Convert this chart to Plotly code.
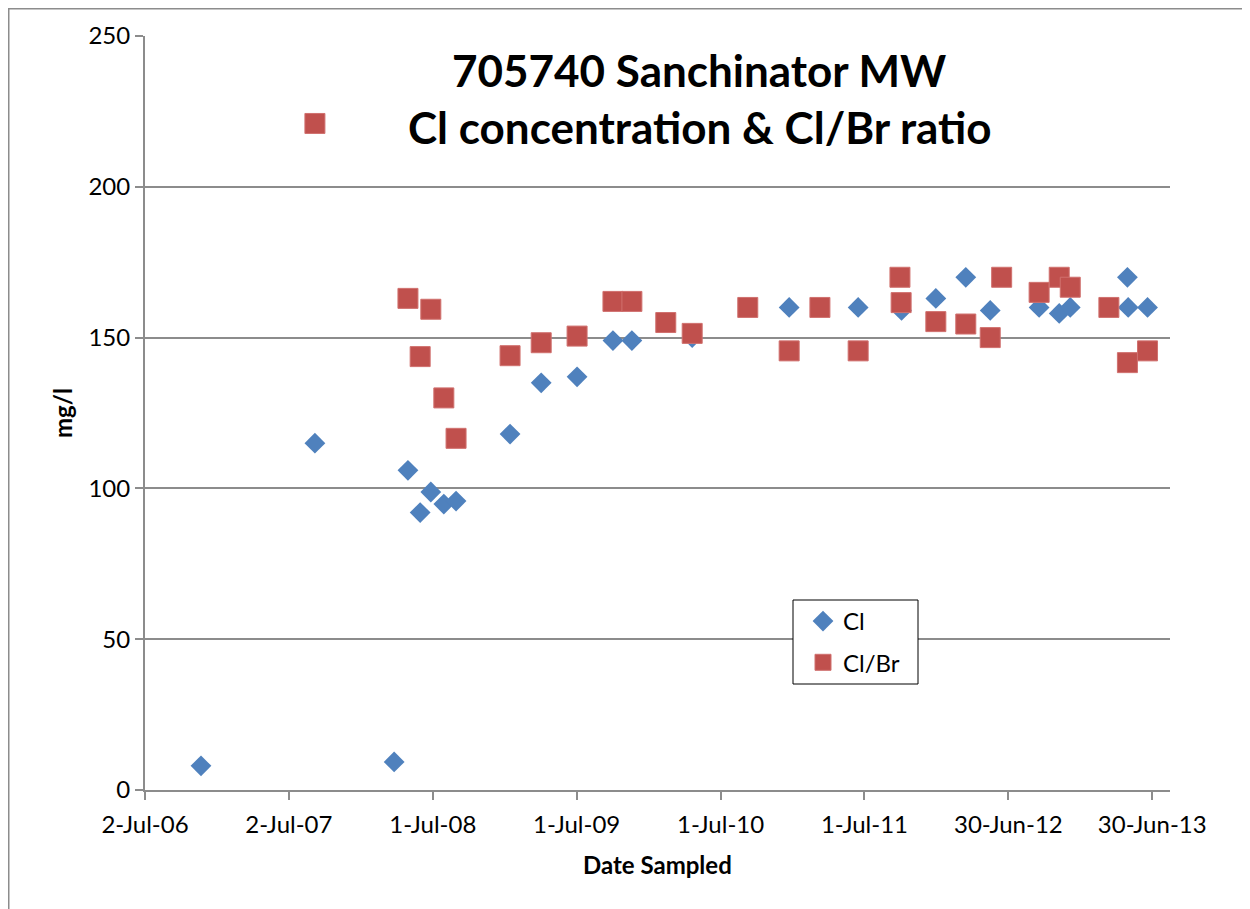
import plotly.graph_objects as go

# ---- data ----
cl_dates = ["2006-11-21", "2007-09-06", "2008-03-25", "2008-04-29", "2008-05-30",
            "2008-06-26", "2008-07-29", "2008-08-29", "2009-01-13", "2009-04-02",
            "2009-07-02", "2009-10-01", "2009-11-18", "2010-04-20", "2010-12-22",
            "2011-06-15", "2011-10-03", "2011-12-29", "2012-03-14", "2012-05-15",
            "2012-09-16", "2012-11-06", "2012-12-04", "2013-04-28", "2013-04-30",
            "2013-06-18"]
cl_values = [8, 115, 9.3, 106, 92, 98.8, 94.8, 95.8, 118, 135,
             137, 149, 149, 150, 160, 160, 159, 163, 170, 159,
             160, 158, 160, 170, 160, 160]

clbr_dates = ["2007-09-06", "2008-04-29", "2008-05-30", "2008-06-26", "2008-07-29",
              "2008-08-29", "2009-01-13", "2009-04-02", "2009-07-02", "2009-10-01",
              "2009-11-18", "2010-02-12", "2010-04-20", "2010-09-08", "2010-12-22",
              "2011-03-10", "2011-06-15", "2011-09-29", "2011-10-02", "2011-12-29",
              "2012-03-14", "2012-05-15", "2012-06-13", "2012-09-16", "2012-11-06",
              "2012-12-04", "2013-03-12", "2013-04-28", "2013-06-18"]
clbr_values = [221, 163, 143.7, 159.4, 130, 116.6, 144, 148.3, 150.5, 162,
               162, 155, 151.4, 160, 145.6, 160, 145.6, 170, 161.6, 155.3,
               154.5, 150, 170, 165, 170, 166.7, 160, 141.7, 145.6]

x_tick_dates = ["2006-07-02", "2007-07-02", "2008-07-01", "2009-07-01",
                "2010-07-01", "2011-07-01", "2012-06-30", "2013-06-30"]
x_tick_labels = ["2-Jul-06", "2-Jul-07", "1-Jul-08", "1-Jul-09",
                 "1-Jul-10", "1-Jul-11", "30-Jun-12", "30-Jun-13"]
x_range = ["2006-07-02", "2013-08-14"]
y_range = [0, 250]

title_lines = ["705740 Sanchinator MW", "Cl concentration & Cl/Br ratio"]
x_title = "Date Sampled"
y_title = "mg/l"

# ---- style ----
FONT = "Lato"
BLUE = "#4F81BD"
RED = "#C0504D"
GRID = "#8C8C8C"

OFF = 8                      # page offset of the figure (body margin)
W, H = 1242, 901
L, T = 145 - OFF, 36 - OFF
R = W - (1170 - OFF)
B = H - (790 - OFF)
PW, PH = W - L - R, H - T - B


def px_x(page_px):
    return (page_px - OFF - L) / PW


def px_y(page_py):
    return (H - B - (page_py - OFF)) / PH


fig = go.Figure()
fig.add_trace(go.Scatter(
    x=cl_dates, y=cl_values, mode="markers", name="Cl", legendgroup="a",
    marker=dict(symbol="diamond", size=16, color=BLUE, line=dict(width=0)),
))
fig.add_trace(go.Scatter(
    x=clbr_dates, y=clbr_values, mode="markers", name="Cl/Br", legendgroup="b",
    marker=dict(symbol="square", size=20, color=RED, line=dict(width=1, color="#D0706E")),
))

shapes = [
    # chart-area border (left and top visible)
    dict(type="rect", xref="paper", yref="paper",
         x0=px_x(OFF + 0.75), y0=px_y(1000), x1=px_x(1400), y1=px_y(OFF + 0.75),
         line=dict(color="#8C8C8C", width=1.5), fillcolor="rgba(0,0,0,0)", layer="below"),
    # legend box
    dict(type="rect", xref="paper", yref="paper",
         x0=px_x(793), y0=px_y(684), x1=px_x(918), y1=px_y(600),
         line=dict(color="black", width=1), fillcolor="white", layer="above"),
]

annotations = [
    dict(text="<b>%s</b>" % title_lines[0], xref="paper", yref="paper",
         x=px_x(699), y=px_y(70), xanchor="center", yanchor="middle",
         showarrow=False, font=dict(family=FONT, size=44, color="black")),
    dict(text="<b>%s</b>" % title_lines[1], xref="paper", yref="paper",
         x=px_x(700), y=px_y(127), xanchor="center", yanchor="middle",
         showarrow=False, font=dict(family=FONT, size=44, color="black")),
    dict(text="<b>%s</b>" % x_title, xref="paper", yref="paper",
         x=px_x(657), y=px_y(864), xanchor="center", yanchor="middle",
         showarrow=False, font=dict(family=FONT, size=24, color="black")),
    dict(text="<b>%s</b>" % y_title, xref="paper", yref="paper",
         x=px_x(62), y=px_y(413), xanchor="center", yanchor="middle", textangle=-90,
         showarrow=False, font=dict(family=FONT, size=24, color="black")),
]

fig.update_layout(
    width=W, height=H,
    margin=dict(l=L, r=R, t=T, b=B, pad=0),
    paper_bgcolor="white", plot_bgcolor="white",
    font=dict(family=FONT, size=24, color="black"),
    shapes=shapes, annotations=annotations,
    showlegend=True,
    legend=dict(x=px_x(803), y=px_y(599), xanchor="left", yanchor="top",
                bgcolor="rgba(0,0,0,0)", borderwidth=0,
                font=dict(family=FONT, size=24, color="black"),
                traceorder="grouped", tracegroupgap=7, itemwidth=30),
    xaxis=dict(type="date", range=x_range, tickmode="array",
               tickvals=x_tick_dates, ticktext=x_tick_labels,
               showgrid=False, zeroline=False,
               showline=True, linecolor=GRID, linewidth=2,
               ticks="outside", ticklen=8, tickwidth=2, tickcolor=GRID,
               ticklabelstandoff=4,
               tickfont=dict(family=FONT, size=24, color="black")),
    yaxis=dict(range=y_range, dtick=50, tick0=0,
               showgrid=True, gridcolor=GRID, gridwidth=2,
               zeroline=False,
               showline=True, linecolor=GRID, linewidth=2,
               ticks="outside", ticklen=8, tickwidth=2, tickcolor=GRID,
               ticklabelstandoff=0,
               tickfont=dict(family=FONT, size=24, color="black")),
)

fig.write_html("out.html")
